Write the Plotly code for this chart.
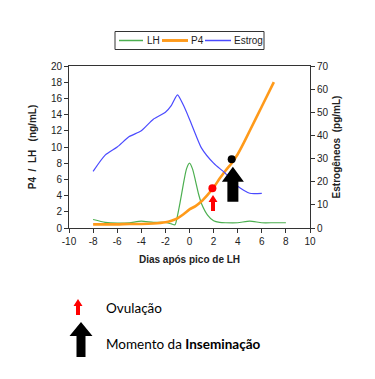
import plotly.graph_objects as go

# ---- data ----
lh_days = [-8, -7, -6, -5, -4, -3, -2, -1.5, -1.2, -1, -0.8, -0.5, -0.25, 0, 0.25, 0.5, 0.75, 1, 1.5, 2, 2.5, 3, 4, 5, 6, 7, 8]
lh_vals = [1.05, 0.7, 0.6, 0.65, 0.85, 0.7, 0.7, 0.5, 0.4, 1.5, 3.0, 5.5, 7.3, 8.0, 7.3, 5.8, 4.2, 3.0, 1.6, 0.9, 0.7, 0.65, 0.65, 0.85, 0.65, 0.65, 0.65]

p4_days = [-8, -7, -6, -5, -4, -3, -2, -1.5, -1, -0.5, 0, 0.5, 1, 1.5, 2, 2.5, 3, 3.5, 4, 4.5, 5, 6, 7]
p4_vals = [0.45, 0.45, 0.45, 0.5, 0.5, 0.55, 0.7, 0.9, 1.2, 1.7, 2.3, 2.7, 3.3, 4.1, 5.0, 6.1, 7.1, 8.0, 9.1, 10.5, 12.0, 15.0, 18.0]

estrog_days = [-8, -7, -6, -5, -4, -3, -2, -1.5, -1, -0.5, 0, 0.5, 1, 2, 3, 4, 5, 6]
estrog_vals = [24.5, 31.5, 35.0, 39.5, 42.0, 47.0, 50.0, 53.0, 57.5, 53.0, 47.0, 40.5, 34.5, 28.0, 23.5, 18.0, 15.0, 15.0]

ovulation_point = (1.9, 4.9)
insemination_point = (3.5, 8.5)
ovulation_arrow = (1.95, 2.1)
insemination_arrow = (3.6, 3.25)

x_ticks = list(range(-10, 11, 2))
x_ticktext = [str(v) for v in x_ticks]
y_ticks = list(range(0, 21, 2))
y2_ticks = list(range(0, 71, 10))

series_names = ["LH", "P4", "Estrog"]
series_colors = ["#4caf50", "#ff9a1a", "#4b4bff"]
series_widths = [1.2, 2.6, 1.2]

FONT = "Arial, 'Liberation Sans', sans-serif"
TXT = "Lato, 'Open Sans', sans-serif"

# plot-area geometry (pixels) for placing decorations
PL, PR, PT, PB = 69, 310, 66, 228


def px(x):
    return (x - PL) / (PR - PL)


def py(y):
    return (PB - y) / (PB - PT)


fig = go.Figure()
fig.add_trace(go.Scatter(x=lh_days, y=lh_vals, name=series_names[0], mode="lines",
                         line=dict(color=series_colors[0], width=series_widths[0], shape="spline", smoothing=0.6)))
fig.add_trace(go.Scatter(x=p4_days, y=p4_vals, name=series_names[1], mode="lines",
                         line=dict(color=series_colors[1], width=series_widths[1], shape="spline", smoothing=0.6)))
fig.add_trace(go.Scatter(x=estrog_days, y=estrog_vals, name=series_names[2], mode="lines", yaxis="y2",
                         line=dict(color=series_colors[2], width=series_widths[2], shape="spline", smoothing=0.6)))
fig.add_trace(go.Scatter(x=[ovulation_point[0]], y=[ovulation_point[1]], mode="markers",
                         marker=dict(color="#ff0000", size=8), showlegend=False))
fig.add_trace(go.Scatter(x=[insemination_point[0]], y=[insemination_point[1]], mode="markers",
                         marker=dict(color="#000000", size=8), showlegend=False))


def arrow_path(sw, hw, total, hh):
    return (f"M {-sw},0 L {sw},0 L {sw},{total-hh} L {hw},{total-hh} "
            f"L 0,{total} L {-hw},{total-hh} L {-sw},{total-hh} Z")


shapes = []
shapes.append(dict(type="path", xref="x", yref="y", xsizemode="pixel", ysizemode="pixel",
                   xanchor=ovulation_arrow[0], yanchor=ovulation_arrow[1],
                   path=arrow_path(2, 4.5, 16, 7), fillcolor="#ff0000", line=dict(width=0)))
shapes.append(dict(type="path", xref="x", yref="y", xsizemode="pixel", ysizemode="pixel",
                   xanchor=insemination_arrow[0], yanchor=insemination_arrow[1],
                   path=arrow_path(5.5, 11, 35, 15), fillcolor="#000000", line=dict(width=0)))
shapes.append(dict(type="path", xref="paper", yref="paper", xsizemode="pixel", ysizemode="pixel",
                   xanchor=px(78), yanchor=py(315),
                   path=arrow_path(2, 4.5, 16, 7), fillcolor="#ff0000", line=dict(width=0)))
shapes.append(dict(type="path", xref="paper", yref="paper", xsizemode="pixel", ysizemode="pixel",
                   xanchor=px(81), yanchor=py(357),
                   path=arrow_path(4.5, 11.5, 35, 14), fillcolor="#000000", line=dict(width=0)))

# custom legend box (top)
shapes.append(dict(type="rect", xref="paper", yref="paper", x0=px(115), x1=px(264), y0=py(31.5), y1=py(49.5),
                   line=dict(color="#333", width=1), fillcolor="white"))
legend_line_x = [(119, 143), (162, 188), (205, 231)]
legend_text_x = [145.5, 190, 232.5]
annotations = []
for name, col, w, (a, b), tx in zip(series_names, series_colors, series_widths, legend_line_x, legend_text_x):
    shapes.append(dict(type="line", xref="paper", yref="paper", x0=px(a), x1=px(b), y0=py(40.5), y1=py(40.5),
                       line=dict(color=col, width=w + 0.3)))
    annotations.append(dict(text=name, xref="paper", yref="paper", x=px(tx), y=py(40.5), xanchor="left",
                            yanchor="middle", showarrow=False, xshift=-1,
                            font=dict(family=FONT, size=10, color="#222")))

annotations += [
    dict(text="Ovulação", xref="paper", yref="paper", x=px(104), y=py(308),
         xanchor="left", yanchor="middle", showarrow=False, font=dict(family=TXT, size=13.5, color="#000")),
    dict(text="Momento da <b>Inseminação</b>", xref="paper", yref="paper", x=px(104),
         y=py(343.5), xanchor="left", yanchor="middle", showarrow=False,
         font=dict(family=TXT, size=13.5, color="#000")),
]

fig.update_layout(
    width=375, height=379,
    margin=dict(l=PL, r=375 - PR, t=PT, b=379 - PB),
    paper_bgcolor="white", plot_bgcolor="white",
    font=dict(family=FONT, size=10, color="#222"),
    showlegend=False,
    xaxis=dict(range=[-10, 10], tickvals=x_ticks, ticktext=x_ticktext, ticks="outside", ticklen=4,
               tickcolor="#333", showline=True, linecolor="#333", linewidth=1, mirror=True,
               showgrid=False, zeroline=False,
               title=dict(text="<b>Dias após pico de LH</b>", font=dict(size=10), standoff=9)),
    yaxis=dict(range=[0, 20], tickvals=y_ticks, ticks="outside", ticklen=4, tickcolor="#333",
               showline=True, linecolor="#333", linewidth=1, showgrid=False, zeroline=False,
               title=dict(text="<b>P4  /  LH   (ng/mL)</b>", font=dict(size=10), standoff=12)),
    yaxis2=dict(range=[0, 70], tickvals=y2_ticks, ticks="outside", ticklen=4, tickcolor="#333",
                overlaying="y", side="right", showline=True, linecolor="#333", linewidth=1,
                showgrid=False, zeroline=False,
                title=dict(text="<b>Estrogêneos  (pg/mL)</b>", font=dict(size=10), standoff=5)),
    shapes=shapes,
    annotations=annotations,
)

fig.write_html("out.html", post_script="document.body.style.margin='0';",
               config={"displayModeBar": False})
